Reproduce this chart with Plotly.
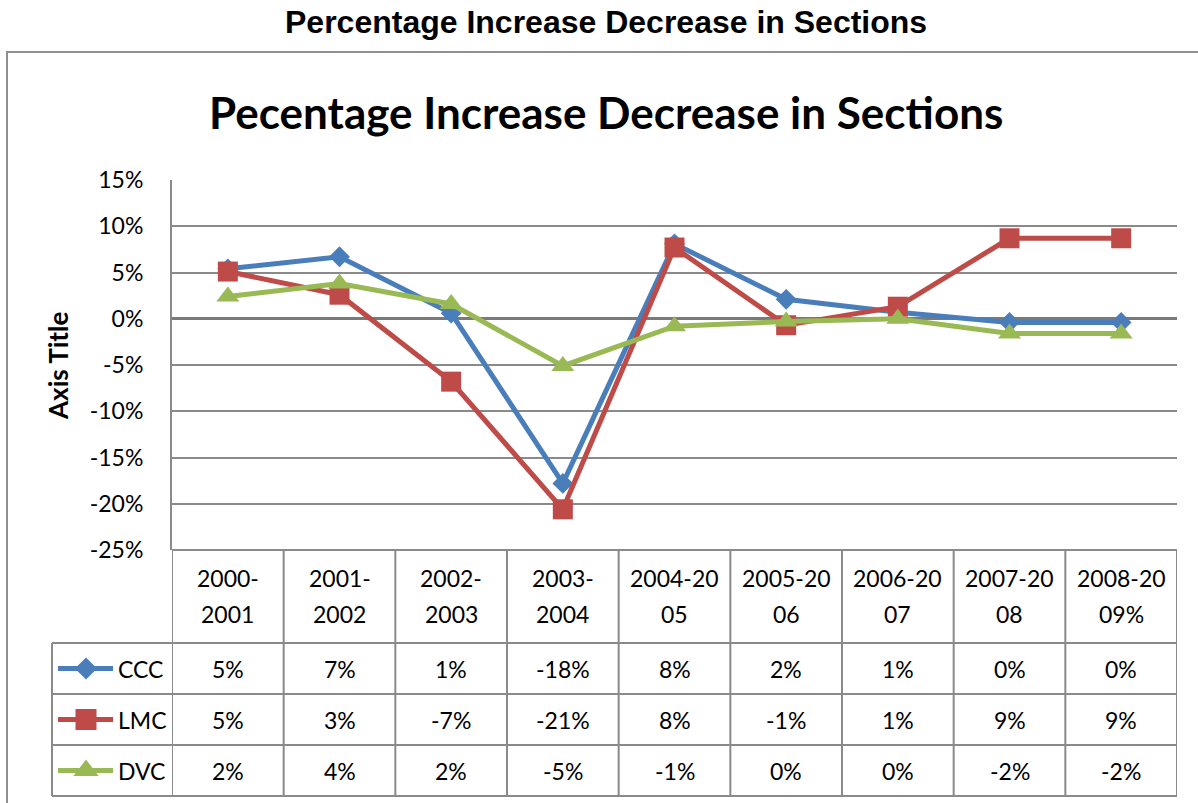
import plotly.graph_objects as go

# Canvas size
W, H = 1198, 803

# Category labels (wrapped in two lines in the data table header)
years_top = ["2000-", "2001-", "2002-", "2003-", "2004-20", "2005-20", "2006-20", "2007-20", "2008-20"]
years_bottom = ["2001", "2002", "2003", "2004", "05", "06", "07", "08", "09%"]
categories = [a + b for a, b in zip(years_top, years_bottom)]

# Percentage change per section
ccc = [5.4, 6.7, 0.6, -17.8, 8.1, 2.1, 0.7, -0.4, -0.4]
lmc = [5.1, 2.6, -6.8, -20.6, 7.7, -0.7, 1.3, 8.7, 8.7]
dvc = [2.4, 3.8, 1.6, -5.1, -0.8, -0.3, 0.0, -1.6, -1.6]

series_names = ["CCC", "LMC", "DVC"]
y_ticks = [-25, -20, -15, -10, -5, 0, 5, 10, 15]
y_tick_labels = [f"{v}%" for v in y_ticks]

# Styling
colors = {"CCC": "#4A7EBB", "LMC": "#BE4B48", "DVC": "#98B954"}
symbols = {"CCC": "diamond", "LMC": "square", "DVC": "triangle-up"}
sizes = {"CCC": 16, "LMC": 20, "DVC": 20}
key_sizes = {"CCC": 17, "LMC": 21, "DVC": 22}
GRID = "#8a8a8a"
BODY_FONT = "Lato"

# Plot area in pixels
PL, PR, PT, PB = 172, 1177, 180, 550
# Table rows in pixels
HEADER_BOTTOM = 643
ROW_EDGES = [643, 694, 745, 796]
LEGEND_LEFT = 52


def px(x):
    return x / W


def py(y):
    return 1 - y / H


fig = go.Figure()

series_values = {"CCC": ccc, "LMC": lmc, "DVC": dvc}
for name in series_names:
    fig.add_trace(go.Scatter(
        x=categories, y=series_values[name], mode="lines+markers", name=name,
        line=dict(color=colors[name], width=5),
        marker=dict(symbol=symbols[name], size=sizes[name], color=colors[name],
                    line=dict(width=0)),
        showlegend=False, cliponaxis=False,
    ))

shapes = []
annotations = []

# Outer chart frame
shapes.append(dict(type="rect", xref="paper", yref="paper",
                   x0=px(7), x1=px(W + 20), y0=py(52), y1=py(H + 20),
                   line=dict(color="#8f8f8f", width=2), fillcolor="rgba(0,0,0,0)"))

# Data table: horizontal rules
shapes.append(dict(type="line", xref="paper", yref="paper",
                   x0=px(PL), x1=px(PR), y0=py(PB), y1=py(PB),
                   line=dict(color=GRID, width=2)))
for yy in ROW_EDGES:
    shapes.append(dict(type="line", xref="paper", yref="paper",
                       x0=px(LEGEND_LEFT), x1=px(PR), y0=py(yy), y1=py(yy),
                       line=dict(color=GRID, width=2)))
# Data table: vertical rules at category boundaries
for k in range(len(categories) + 1):
    shapes.append(dict(type="line", xref="x", yref="paper",
                       x0=k - 0.5, x1=k - 0.5, y0=py(PB), y1=py(ROW_EDGES[-1]),
                       line=dict(color=GRID, width=2)))
shapes.append(dict(type="line", xref="paper", yref="paper",
                   x0=px(LEGEND_LEFT), x1=px(LEGEND_LEFT), y0=py(HEADER_BOTTOM), y1=py(ROW_EDGES[-1]),
                   line=dict(color=GRID, width=2)))

# Header cells (two-line category labels)
for k, (top, bot) in enumerate(zip(years_top, years_bottom)):
    annotations.append(dict(x=k, y=py(578), xref="x", yref="paper", text=top, showarrow=False,
                            font=dict(family=BODY_FONT, size=23, color="black"),
                            xanchor="center", yanchor="middle"))
    annotations.append(dict(x=k, y=py(614), xref="x", yref="paper", text=bot, showarrow=False,
                            font=dict(family=BODY_FONT, size=23, color="black"),
                            xanchor="center", yanchor="middle"))


def pct_label(v):
    r = round(v)
    return f"{int(r) + 0}%"


# Value cells and legend keys
for i, name in enumerate(series_names):
    yc = (ROW_EDGES[i] + ROW_EDGES[i + 1]) / 2
    for k, v in enumerate(series_values[name]):
        annotations.append(dict(x=k, y=py(yc), xref="x", yref="paper", text=pct_label(v),
                                showarrow=False,
                                font=dict(family=BODY_FONT, size=23, color="black"),
                                xanchor="center", yanchor="middle"))
    annotations.append(dict(x=px(116), y=py(yc), xref="paper", yref="paper", text=name,
                            showarrow=False,
                            font=dict(family=BODY_FONT, size=23, color="black"),
                            xanchor="left", yanchor="middle"))
    fig.add_trace(go.Scatter(
        x=[58, 113], y=[yc, yc], xaxis="x2", yaxis="y2", mode="lines",
        line=dict(color=colors[name], width=5), showlegend=False, hoverinfo="skip"))
    fig.add_trace(go.Scatter(
        x=[86], y=[yc], xaxis="x2", yaxis="y2", mode="markers",
        marker=dict(symbol=symbols[name], size=key_sizes[name], color=colors[name], line=dict(width=0)),
        showlegend=False, hoverinfo="skip"))

# Titles
annotations.append(dict(x=px(606), y=py(22), xref="paper", yref="paper",
                        text="<b>Percentage Increase Decrease in Sections</b>", showarrow=False,
                        font=dict(family="Liberation Sans, Arial", size=32, color="black"),
                        xanchor="center", yanchor="middle"))
annotations.append(dict(x=px(606), y=py(112), xref="paper", yref="paper",
                        text="<b>Pecentage Increase Decrease in Sections</b>", showarrow=False,
                        font=dict(family=BODY_FONT, size=44, color="black"),
                        xanchor="center", yanchor="middle"))
annotations.append(dict(x=px(58), y=py(366), xref="paper", yref="paper",
                        text="<b>Axis Title</b>", showarrow=False, textangle=-90,
                        font=dict(family=BODY_FONT, size=26, color="black"),
                        xanchor="center", yanchor="middle"))

fig.update_layout(
    width=W, height=H,
    margin=dict(l=0, r=0, t=0, b=0, pad=0),
    paper_bgcolor="white", plot_bgcolor="rgba(0,0,0,0)",
    showlegend=False,
    xaxis=dict(domain=[px(PL), px(PR)], type="category", range=[-0.5, len(categories) - 0.5],
               showticklabels=False, showgrid=False, zeroline=False, showline=False, ticks="",
               automargin=False),
    yaxis=dict(domain=[py(PB), py(PT)], range=[-25, 15], tickmode="array",
               tickvals=y_ticks, ticktext=y_tick_labels,
               tickfont=dict(family=BODY_FONT, size=23, color="black"),
               showgrid=True, gridcolor=GRID, gridwidth=2,
               zeroline=True, zerolinecolor="#7a7a7a", zerolinewidth=2.5,
               showline=True, linecolor=GRID, linewidth=2,
               ticks="", ticklabelstandoff=22, automargin=False),
    xaxis2=dict(domain=[0, 1], range=[0, W], visible=False, anchor="y2", fixedrange=True,
                automargin=False),
    yaxis2=dict(domain=[0, 1], range=[H, 0], visible=False, anchor="x2", fixedrange=True,
                automargin=False),
    shapes=shapes,
    annotations=annotations,
)

fig.write_html("out.html")
